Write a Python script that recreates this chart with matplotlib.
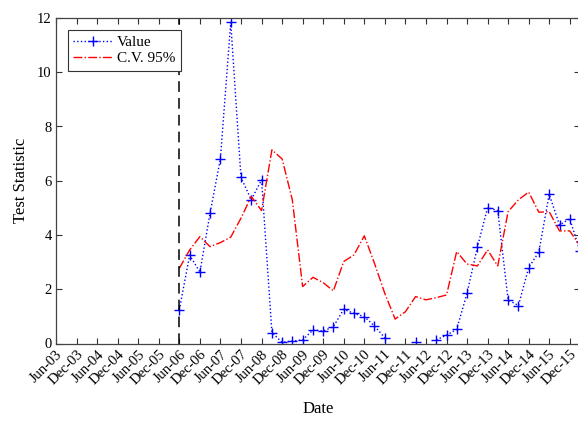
import numpy as np
import pandas as pd
import matplotlib
matplotlib.use('Agg')
import matplotlib.pyplot as plt
import matplotlib.dates as mdates

plt.rcParams['font.family'] = ['Liberation Serif', 'DejaVu Serif']

# Quarterly observations, Jun-06 .. Mar-16
dates = pd.date_range('2006-06-01', periods=40, freq='3MS')
value = [1.24, 3.26, 2.63, 4.80, 6.81, 11.84, 6.12, 5.30, 6.03, 0.40,
         0.04, 0.09, 0.13, 0.50, 0.46, 0.62, 1.26, 1.11, 0.99, 0.65,
         0.21, np.nan, np.nan, 0.05, np.nan, 0.13, 0.31, 0.52, 1.85, 3.55,
         5.01, 4.90, 1.61, 1.40, 2.80, 3.37, 5.50, 4.37, 4.60, 3.40]
cv95 = [2.77, 3.45, 3.94, 3.57, 3.72, 3.92, 4.62, 5.42, 4.90, 7.14,
        6.80, 5.30, 2.10, 2.44, 2.24, 1.94, 3.02, 3.27, 3.97, 2.96,
        1.85, 0.90, 1.17, 1.73, 1.61, 1.69, 1.79, 3.39, 2.93, 2.86,
        3.45, 2.86, 4.86, 5.30, 5.58, 4.84, 4.86, 4.15, 4.15, 3.60]

tick_dates = pd.date_range('2003-06-01', '2015-12-01', freq='6MS')
tick_labels = [d.strftime('%b-%y') for d in tick_dates]
break_date = pd.Timestamp('2006-06-01')

W, H = 578, 421
fig = plt.figure(figsize=(W / 100, H / 100), dpi=100)
ax = fig.add_axes([56 / W, (H - 343.5) / H, 524 / W, 325.5 / H])

ax.plot(dates, value, color='blue', linestyle=':', linewidth=1,
        marker='+', markersize=7, markeredgewidth=1, label='Value')
ax.plot(dates, cv95, color='red', linestyle='-.', linewidth=1,
        label='C.V. 95%')
ax.plot([break_date, break_date], [0, 12], color='black', linewidth=1.1,
        linestyle=(0, (7, 4)))

ax.set_xlim(tick_dates[0], dates[-1])
ax.set_ylim(0, 12)
ax.set_xticks(tick_dates)
ax.set_xticklabels(tick_labels, rotation=45, ha='right', rotation_mode='anchor')
ax.set_yticks(np.arange(0, 13, 2))
ax.tick_params(direction='in', top=True, right=True, length=4,
               labelsize=10.5, color='#333333', pad=3)
for s in ax.spines.values():
    s.set_color('#444444')
    s.set_linewidth(0.9)

ax.set_xlabel('Date', fontsize=12, labelpad=10)
ax.set_ylabel('Test Statistic', fontsize=12, labelpad=6)

leg = ax.legend(loc='upper left', bbox_to_anchor=(0.022, 0.962), fontsize=11,
                fancybox=False, edgecolor='#333333', framealpha=1,
                borderpad=0.35, labelspacing=0.15, handlelength=2.6,
                handletextpad=0.3, borderaxespad=0)
leg.get_frame().set_linewidth(0.8)

fig.savefig('out.png', dpi=100)
